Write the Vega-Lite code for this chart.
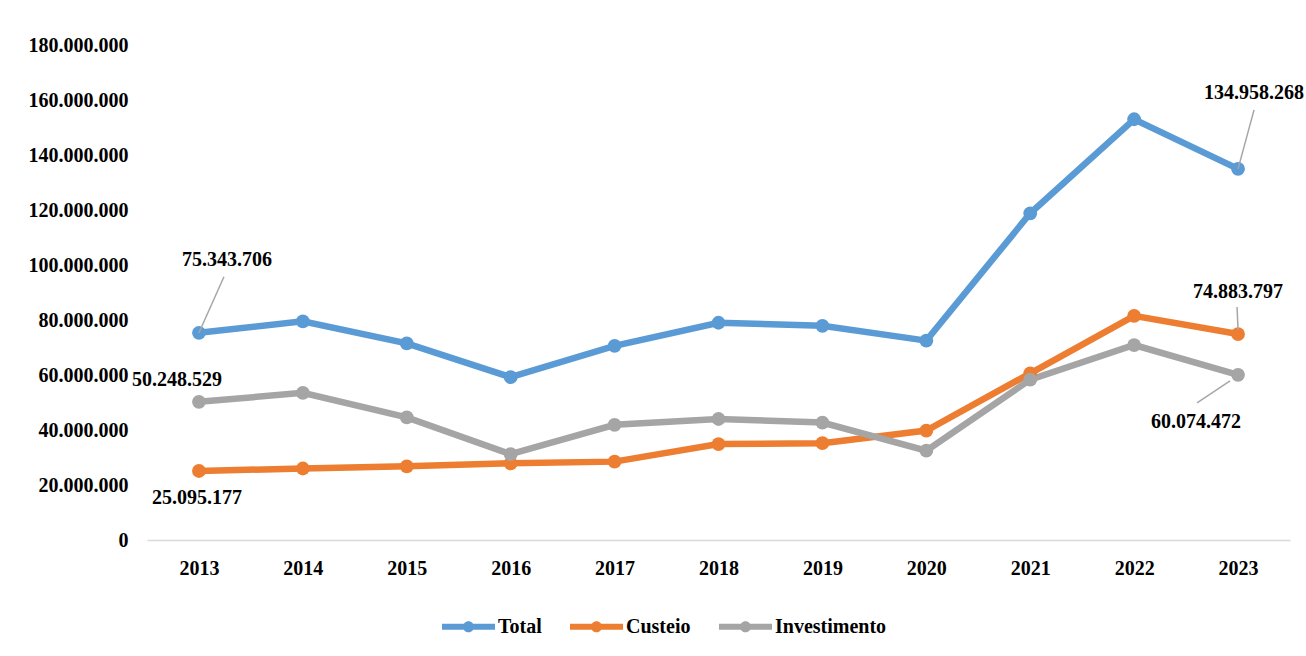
{
  "$schema": "https://vega.github.io/schema/vega-lite/v6.json",
  "autosize": {"type": "none"},
  "width": 1143,
  "height": 495,
  "padding": {"left": 147, "top": 45, "right": 16, "bottom": 116},
  "background": "white",
  "config": {
    "view": {"stroke": null},
    "locale": {"number": {"decimal": ",", "thousands": ".", "grouping": [3], "currency": ["R$", ""]}},
    "font": "Times New Roman, Liberation Serif, serif"
  },
  "data": {
    "values": [
      {"ano": 2013, "serie": "Total", "valor": 75343706},
      {"ano": 2014, "serie": "Total", "valor": 79500000},
      {"ano": 2015, "serie": "Total", "valor": 71500000},
      {"ano": 2016, "serie": "Total", "valor": 59200000},
      {"ano": 2017, "serie": "Total", "valor": 70600000},
      {"ano": 2018, "serie": "Total", "valor": 79000000},
      {"ano": 2019, "serie": "Total", "valor": 77900000},
      {"ano": 2020, "serie": "Total", "valor": 72500000},
      {"ano": 2021, "serie": "Total", "valor": 118800000},
      {"ano": 2022, "serie": "Total", "valor": 153000000},
      {"ano": 2023, "serie": "Total", "valor": 134958268},
      {"ano": 2013, "serie": "Custeio", "valor": 25095177},
      {"ano": 2014, "serie": "Custeio", "valor": 26000000},
      {"ano": 2015, "serie": "Custeio", "valor": 26800000},
      {"ano": 2016, "serie": "Custeio", "valor": 27900000},
      {"ano": 2017, "serie": "Custeio", "valor": 28500000},
      {"ano": 2018, "serie": "Custeio", "valor": 34900000},
      {"ano": 2019, "serie": "Custeio", "valor": 35200000},
      {"ano": 2020, "serie": "Custeio", "valor": 39800000},
      {"ano": 2021, "serie": "Custeio", "valor": 60600000},
      {"ano": 2022, "serie": "Custeio", "valor": 81500000},
      {"ano": 2023, "serie": "Custeio", "valor": 74883797},
      {"ano": 2013, "serie": "Investimento", "valor": 50248529},
      {"ano": 2014, "serie": "Investimento", "valor": 53500000},
      {"ano": 2015, "serie": "Investimento", "valor": 44600000},
      {"ano": 2016, "serie": "Investimento", "valor": 31200000},
      {"ano": 2017, "serie": "Investimento", "valor": 41900000},
      {"ano": 2018, "serie": "Investimento", "valor": 44000000},
      {"ano": 2019, "serie": "Investimento", "valor": 42700000},
      {"ano": 2020, "serie": "Investimento", "valor": 32500000},
      {"ano": 2021, "serie": "Investimento", "valor": 58300000},
      {"ano": 2022, "serie": "Investimento", "valor": 70900000},
      {"ano": 2023, "serie": "Investimento", "valor": 60074472}
    ]
  },
  "encoding": {
    "x": {
      "field": "ano", "type": "ordinal",
      "scale": {"type": "point", "padding": 0.5},
      "axis": {
        "title": null, "labelAngle": 0, "ticks": false, "grid": false,
        "domainColor": "#D9D9D9", "domainWidth": 1.5,
        "labelFont": "Times New Roman, Liberation Serif, serif", "labelFontSize": 20, "labelFontWeight": "bold",
        "labelColor": "#000000", "labelPadding": 18
      }
    },
    "y": {
      "field": "valor", "type": "quantitative",
      "scale": {"domain": [0, 180000000], "nice": false},
      "axis": {
        "title": null, "domain": false, "ticks": false, "grid": false,
        "values": [0, 20000000, 40000000, 60000000, 80000000, 100000000, 120000000, 140000000, 160000000, 180000000],
        "format": ",.0f",
        "labelFont": "Times New Roman, Liberation Serif, serif", "labelFontSize": 20, "labelFontWeight": "bold",
        "labelColor": "#000000", "labelPadding": 19
      }
    }
  },
  "layer": [
    {
      "mark": {"type": "line", "strokeWidth": 6.5, "point": {"filled": true, "size": 190, "opacity": 1}},
      "encoding": {
        "color": {
          "field": "serie", "type": "nominal",
          "scale": {"domain": ["Total", "Custeio", "Investimento"], "range": ["#5B9BD5", "#ED7D31", "#A5A5A5"]},
          "legend": {
            "title": null, "orient": "none", "direction": "horizontal",
            "legendX": 295, "legendY": 555,
            "padding": 0, "columnPadding": 28,
            "symbolType": "M-1,-0.11 L1,-0.11 L1,0.11 L-1,0.11 Z M-0.21,0 A0.21,0.21 0 1,1 0.21,0 A0.21,0.21 0 1,1 -0.21,0 Z",
            "symbolSize": 2809, "symbolStrokeWidth": 0, "symbolOpacity": 1,
            "labelFont": "Times New Roman, Liberation Serif, serif", "labelFontSize": 20, "labelFontWeight": "bold",
            "labelColor": "#000000", "labelOffset": 3,
            "encode": {"symbols": {"update": {"fill": {"scale": "color", "field": "value"}, "strokeWidth": {"value": 0}}}}
          }
        }
      }
    },
    {
      "transform": [{"filter": "datum.ano == 2013 && datum.serie == 'Total'"}],
      "mark": {"type": "rule", "color": "#A6A6A6", "strokeWidth": 1.5, "x2Offset": 25, "y2Offset": -56},
      "encoding": {"x2": {"field": "ano"}, "y2": {"field": "valor"}}
    },
    {
      "transform": [{"filter": "datum.ano == 2023 && datum.serie == 'Total'"}],
      "mark": {"type": "rule", "color": "#A6A6A6", "strokeWidth": 1.5, "x2Offset": 16, "y2Offset": -59},
      "encoding": {"x2": {"field": "ano"}, "y2": {"field": "valor"}}
    },
    {
      "transform": [{"filter": "datum.ano == 2023 && datum.serie == 'Custeio'"}],
      "mark": {"type": "rule", "color": "#A6A6A6", "strokeWidth": 1.5, "yOffset": -4, "x2Offset": -1, "y2Offset": -27},
      "encoding": {"x2": {"field": "ano"}, "y2": {"field": "valor"}}
    },
    {
      "transform": [{"filter": "datum.ano == 2023 && datum.serie == 'Investimento'"}],
      "mark": {"type": "rule", "color": "#A6A6A6", "strokeWidth": 1.5, "xOffset": -8, "yOffset": 6, "x2Offset": -41, "y2Offset": 28},
      "encoding": {"x2": {"field": "ano"}, "y2": {"field": "valor"}}
    },
    {
      "transform": [{"filter": "datum.ano == 2013 && datum.serie == 'Total'"}],
      "mark": {"type": "text", "font": "Times New Roman, Liberation Serif, serif", "fontSize": 20, "fontWeight": "bold", "color": "#000000", "dx": 28, "dy": -73},
      "encoding": {"text": {"field": "valor", "type": "quantitative", "format": ",.0f"}}
    },
    {
      "transform": [{"filter": "datum.ano == 2013 && datum.serie == 'Investimento'"}],
      "mark": {"type": "text", "font": "Times New Roman, Liberation Serif, serif", "fontSize": 20, "fontWeight": "bold", "color": "#000000", "dx": -22, "dy": -22},
      "encoding": {"text": {"field": "valor", "type": "quantitative", "format": ",.0f"}}
    },
    {
      "transform": [{"filter": "datum.ano == 2013 && datum.serie == 'Custeio'"}],
      "mark": {"type": "text", "font": "Times New Roman, Liberation Serif, serif", "fontSize": 20, "fontWeight": "bold", "color": "#000000", "dx": -2, "dy": 27},
      "encoding": {"text": {"field": "valor", "type": "quantitative", "format": ",.0f"}}
    },
    {
      "transform": [{"filter": "datum.ano == 2023 && datum.serie == 'Total'"}],
      "mark": {"type": "text", "font": "Times New Roman, Liberation Serif, serif", "fontSize": 20, "fontWeight": "bold", "color": "#000000", "dx": 16, "dy": -76},
      "encoding": {"text": {"field": "valor", "type": "quantitative", "format": ",.0f"}}
    },
    {
      "transform": [{"filter": "datum.ano == 2023 && datum.serie == 'Custeio'"}],
      "mark": {"type": "text", "font": "Times New Roman, Liberation Serif, serif", "fontSize": 20, "fontWeight": "bold", "color": "#000000", "dx": 0, "dy": -42},
      "encoding": {"text": {"field": "valor", "type": "quantitative", "format": ",.0f"}}
    },
    {
      "transform": [{"filter": "datum.ano == 2023 && datum.serie == 'Investimento'"}],
      "mark": {"type": "text", "font": "Times New Roman, Liberation Serif, serif", "fontSize": 20, "fontWeight": "bold", "color": "#000000", "dx": -42, "dy": 47},
      "encoding": {"text": {"field": "valor", "type": "quantitative", "format": ",.0f"}}
    }
  ]
}
